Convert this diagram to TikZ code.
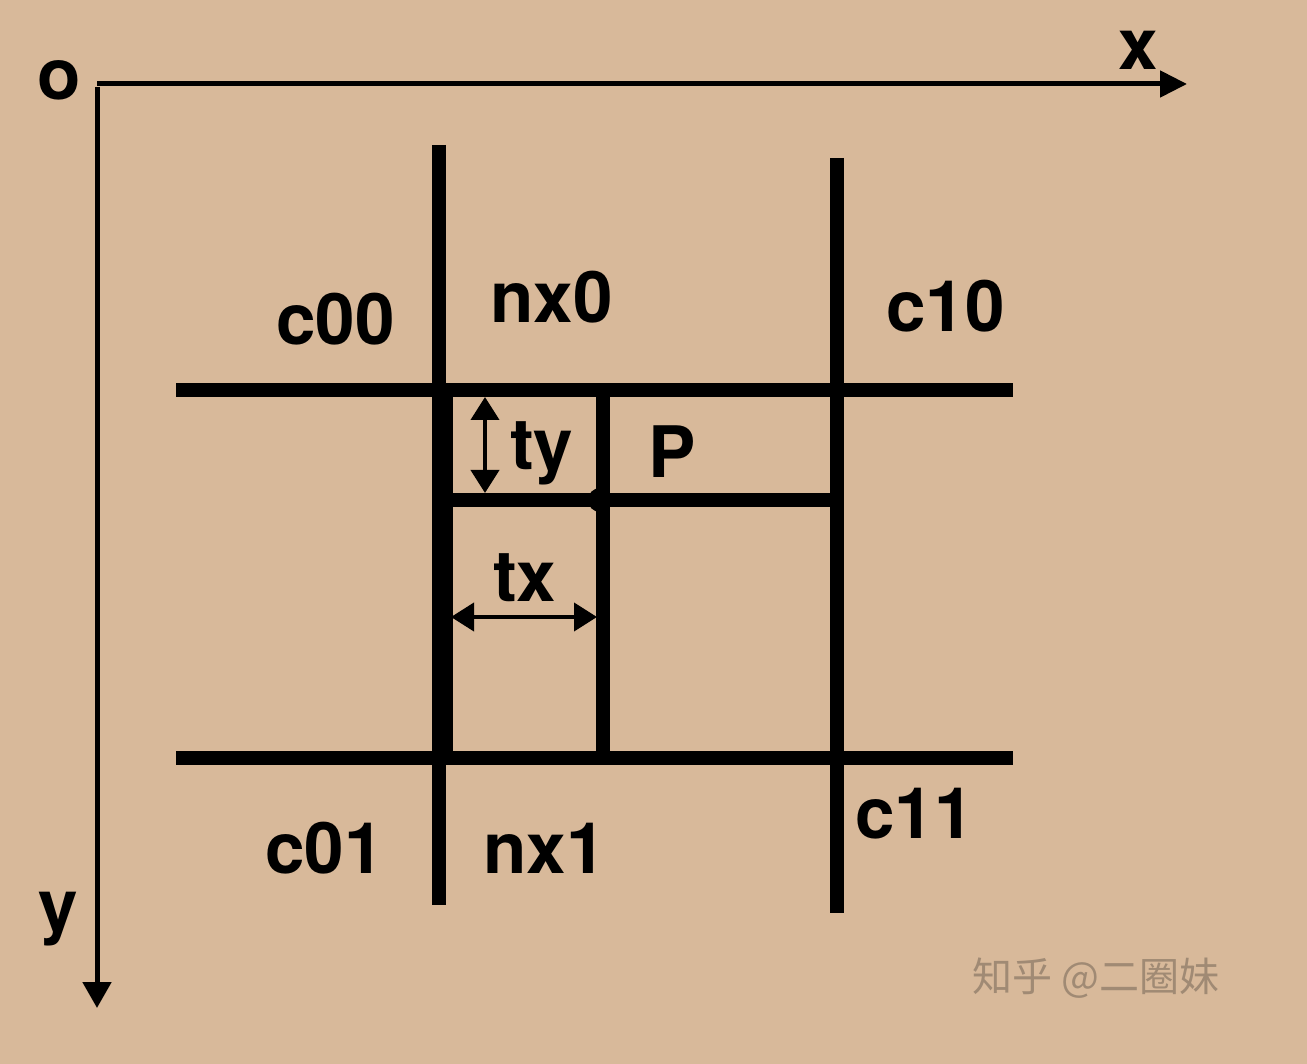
\documentclass[tikz,border=0pt]{standalone}
\usepackage{fontspec}
\setmainfont{TeX Gyre Heros}
\newfontfamily\cjk{Noto Sans CJK SC}
\usetikzlibrary{arrows.meta}
\definecolor{bgtan}{RGB}{216,185,154}
\definecolor{wmark}{RGB}{160,138,116}
\begin{document}
\begin{tikzpicture}[x=1pt,y=-1pt,
  gridline/.style={line width=14pt},
  axisline/.style={line width=5pt},
  dimline/.style={line width=4pt,{Triangle[length=23pt,width=28pt]}-{Triangle[length=23pt,width=28pt]}},
  lbl/.style={anchor=base west,inner sep=0pt,font=\fontsize{71}{80}\selectfont\bfseries},
  wm/.style={anchor=base west,inner sep=0pt,text=wmark,font=\fontsize{40}{44}\selectfont\cjk}]
\fill[bgtan] (0,0) rectangle (1307,1064);
\useasboundingbox (0,0) rectangle (1307,1064);
% axes
\coordinate (O) at (97,84);
\coordinate (X) at (1187,84);
\coordinate (Y) at (97,1008);
\draw[axisline,-{Triangle[length=27pt,width=26pt]}] (O) -- (X);
\draw[axisline,-{Triangle[length=26pt,width=28pt]}] ([yshift=-3pt]O) -- (Y);
% grid coordinates
\coordinate (h1a) at (176,390); \coordinate (h1b) at (1013,390);
\coordinate (h2a) at (176,758); \coordinate (h2b) at (1013,758);
\coordinate (v1a) at (439,145); \coordinate (v1b) at (439,905);
\coordinate (v2a) at (837,158); \coordinate (v2b) at (837,913);
\coordinate (ina) at (446,390); \coordinate (inb) at (446,758);
\coordinate (pma) at (603,390); \coordinate (pmb) at (603,758);
\coordinate (mha) at (446,500); \coordinate (mhb) at (837,500);
\draw[gridline] (h1a) -- (h1b);
\draw[gridline] (h2a) -- (h2b);
\draw[gridline] (v1a) -- (v1b);
\draw[gridline] (v2a) -- (v2b);
\draw[gridline] (ina) -- (inb);
\draw[gridline] (pma) -- (pmb);
\draw[gridline] (mha) -- (mhb);
\node[circle,fill=black,minimum size=24pt,inner sep=0pt] (P) at (600,500) {};
% dimension arrows
\coordinate (tya) at (485,397); \coordinate (tyb) at (485,493);
\coordinate (txa) at (451,617); \coordinate (txb) at (597,617);
\draw[dimline] (tya) -- (tyb);
\draw[dimline] (txa) -- (txb);
% labels
\node[lbl] (lo) at (37,100) {o};
\node[lbl] (lx) at (1118,70) {x};
\node[lbl] (ly) at (38,930) {y};
\node[lbl] (c00) at (276,345) {c00};
\node[lbl] (nx0) at (490,323) {nx0};
\node[lbl] (c10) at (886,332) {c10};
\node[lbl] (c01) at (265,873) {c01};
\node[lbl] (nx1) at (483,873) {nx1};
\node[lbl] (c11) at (855,838) {c11};
\node[lbl] (ty) at (510,470) {ty};
\node[lbl] (tx) at (493,601) {tx};
\node[lbl] (lp) at (648,478) {P};
\node[wm] (wmk) at (972,991) {知乎 @二圈妹};
\end{tikzpicture}
\end{document}
